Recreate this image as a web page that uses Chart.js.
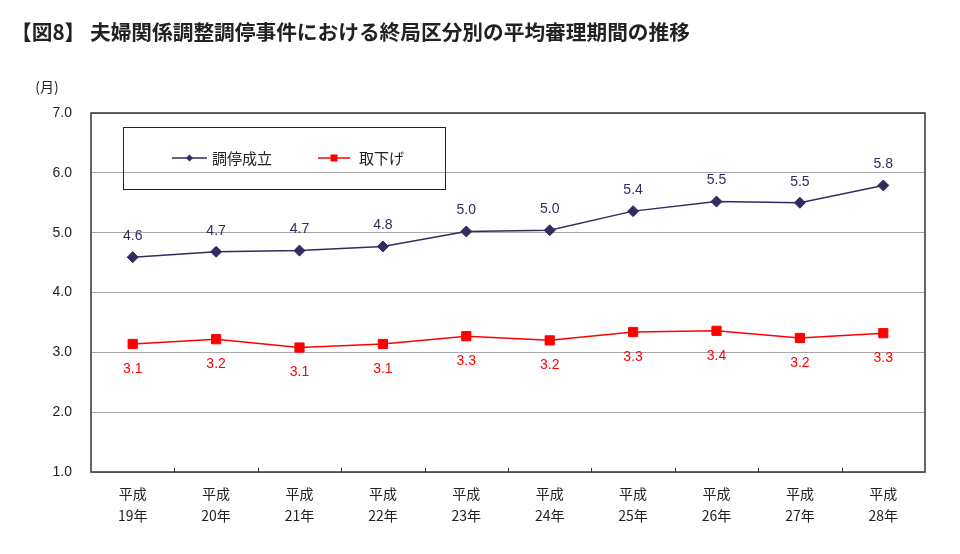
<!DOCTYPE html>
<html lang="ja">
<head>
<meta charset="utf-8">
<script src="https://cdn.jsdelivr.net/npm/chart.js@4.4.1/dist/chart.umd.min.js"></script>
<style>
  html, body { margin: 0; padding: 0; background: #fff; }
  #wrap { width: 960px; height: 554px; }
</style>
</head>
<body>
<div id="wrap"><canvas id="chart" width="960" height="554"></canvas></div>
<script>
const titleText = '【図8】 夫婦関係調整調停事件における終局区分別の平均審理期間の推移';
const unitText = '(月)';
const eras = ['平成', '平成', '平成', '平成', '平成', '平成', '平成', '平成', '平成', '平成'];
const years = ['19年', '20年', '21年', '22年', '23年', '24年', '25年', '26年', '27年', '28年'];
const seriesNames = ['調停成立', '取下げ'];
const chouteiSeiritsu = [4.59, 4.68, 4.70, 4.77, 5.02, 5.04, 5.36, 5.52, 5.50, 5.79];
const torisage = [3.14, 3.22, 3.08, 3.14, 3.27, 3.20, 3.34, 3.36, 3.24, 3.32];
const yMin = 1;
const yMax = 7;
const yStep = 1;

const NAVY = '#2f2d60';
const RED = '#ff0000';
const NUM_FONT = "'Liberation Sans', Arial, sans-serif";
const JP_FONT = "'Noto Sans CJK JP', 'Noto Sans', sans-serif";

const labels = years.map((y, i) => [eras[i], y]);

const overlay = {
  id: 'overlay',
  afterDraw(chart) {
    const ctx = chart.ctx;
    const area = chart.chartArea;
    ctx.save();

    // frame of the plot area
    ctx.strokeStyle = '#333';
    ctx.lineWidth = 1.5;
    ctx.strokeRect(area.left, area.top, area.right - area.left, area.bottom - area.top);

    // small ticks between categories on the bottom axis
    const n = years.length;
    const w = (area.right - area.left) / n;
    ctx.lineWidth = 1;
    for (let i = 1; i < n; i++) {
      const x = Math.round(area.left + i * w) + 0.5;
      ctx.beginPath();
      ctx.moveTo(x, area.bottom);
      ctx.lineTo(x, area.bottom - 4);
      ctx.stroke();
    }

    // value labels
    ctx.font = '14px ' + NUM_FONT;
    ctx.textAlign = 'center';
    ctx.textBaseline = 'middle';
    chart.data.datasets.forEach((ds, di) => {
      const meta = chart.getDatasetMeta(di);
      meta.data.forEach((pt, i) => {
        ctx.fillStyle = di === 0 ? NAVY : RED;
        const dy = di === 0 ? -21 : 25;
        ctx.fillText(ds.data[i].toFixed(1), pt.x, pt.y + dy);
      });
    });

    // legend box
    ctx.strokeStyle = '#222';
    ctx.lineWidth = 1;
    ctx.strokeRect(123.5, 127.5, 322, 62);
    const ly = 158;
    ctx.lineWidth = 1.5;
    ctx.strokeStyle = NAVY;
    ctx.beginPath(); ctx.moveTo(172, ly); ctx.lineTo(207, ly); ctx.stroke();
    ctx.fillStyle = NAVY;
    ctx.beginPath();
    ctx.moveTo(189.5 - 3.5, ly); ctx.lineTo(189.5, ly - 3.5);
    ctx.lineTo(189.5 + 3.5, ly); ctx.lineTo(189.5, ly + 3.5);
    ctx.closePath(); ctx.fill();
    ctx.strokeStyle = RED;
    ctx.beginPath(); ctx.moveTo(318, ly); ctx.lineTo(350, ly); ctx.stroke();
    ctx.fillStyle = RED;
    ctx.fillRect(334 - 3.5, ly - 3.5, 7, 7);
    ctx.fillStyle = '#222';
    ctx.font = '15px ' + JP_FONT;
    ctx.textAlign = 'left';
    ctx.fillText(seriesNames[0], 212, ly);
    ctx.fillText(seriesNames[1], 359, ly);

    // title and unit
    ctx.font = 'bold 20.7px ' + JP_FONT;
    ctx.fillText(titleText, 11, 32);
    ctx.font = '14px ' + JP_FONT;
    ctx.textAlign = 'center';
    ctx.fillText(unitText, 47, 87);

    ctx.restore();
  }
};

new Chart(document.getElementById('chart'), {
  type: 'line',
  data: {
    labels: labels,
    datasets: [
      {
        label: seriesNames[0],
        data: chouteiSeiritsu,
        borderColor: NAVY,
        backgroundColor: NAVY,
        borderWidth: 1.5,
        pointStyle: 'rectRot',
        pointRadius: 5.5,
        pointBorderWidth: 1,
        tension: 0
      },
      {
        label: seriesNames[1],
        data: torisage,
        borderColor: RED,
        backgroundColor: RED,
        borderWidth: 1.5,
        pointStyle: 'rect',
        pointRadius: 6.5,
        pointBorderWidth: 1,
        tension: 0
      }
    ]
  },
  options: {
    responsive: false,
    animation: false,
    layout: { padding: { left: 0, right: 35, top: 113, bottom: 0 } },
    plugins: {
      legend: { display: false },
      title: { display: false },
      tooltip: { enabled: false }
    },
    scales: {
      x: {
        offset: true,
        grid: { display: false, drawTicks: false },
        border: { display: false },
        ticks: {
          color: '#222',
          padding: 10,
          maxRotation: 0,
          font: { family: JP_FONT, size: 14, lineHeight: 1.6 }
        },
        afterFit(scale) { scale.height = 82; }
      },
      y: {
        min: yMin,
        max: yMax,
        grid: { color: '#a8a8a8', lineWidth: 1, drawTicks: false },
        border: { display: false },
        ticks: {
          stepSize: yStep,
          color: '#222',
          padding: 19,
          font: { family: NUM_FONT, size: 14 },
          callback: v => v.toFixed(1)
        },
        afterFit(scale) { scale.width = 91; }
      }
    }
  },
  plugins: [overlay]
});
</script>
</body>
</html>
